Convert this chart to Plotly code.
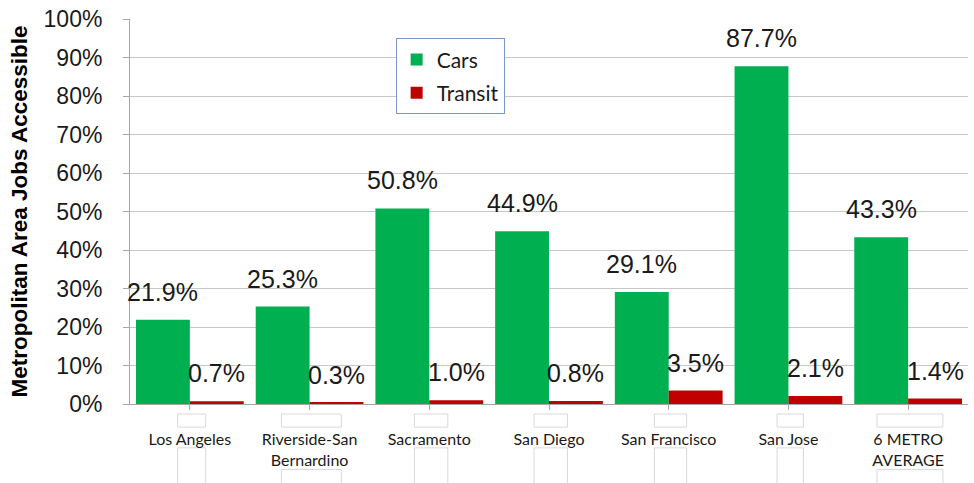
import plotly.graph_objects as go

# Share of metropolitan-area jobs reachable, by mode
metros = ["Los Angeles", "Riverside-San<br>Bernardino", "Sacramento", "San Diego",
          "San Francisco", "San Jose", "6 METRO<br>AVERAGE"]
cars = [21.9, 25.3, 50.8, 44.9, 29.1, 87.7, 43.3]
transit = [0.7, 0.3, 1.0, 0.8, 3.5, 2.1, 1.4]
y_ticks = list(range(0, 101, 10))

GREEN = "#00B050"
RED = "#C00000"
BAR_GAP = 0.1
half = (1 - BAR_GAP) / 4  # offset of each bar centre within its group
idx = list(range(len(metros)))

fig = go.Figure()
fig.add_trace(go.Bar(name="Cars", x=idx, y=cars, legendgroup="cars",
                     marker=dict(color=GREEN, line=dict(width=0))))
fig.add_trace(go.Bar(name="Transit", x=idx, y=transit, legendgroup="transit",
                     marker=dict(color=RED, line=dict(width=0))))

annotations = []
for i, (c, t) in enumerate(zip(cars, transit)):
    for val, off in ((c, -half), (t, half)):
        annotations.append(dict(x=i + off, y=val, xref="x", yref="y",
                                text=f"{val:.1f}%", showarrow=False,
                                yshift=28, yanchor="middle",
                                font=dict(family="Liberation Sans, Arial", size=25,
                                          color="#1a1a1a")))

# small label frames around the category names
frame_w = [0.234, 0.5, 0.28, 0.28, 0.27, 0.22, 0.55]
two_line = [False, True, False, False, False, False, True]
shapes = []
for i, (w, tl) in enumerate(zip(frame_w, two_line)):
    cx = i + 0.015
    shapes.append(dict(type="rect", xref="x", yref="paper",
                       x0=cx - w / 2, x1=cx + w / 2,
                       y0=-0.060, y1=-0.026,
                       line=dict(color="#d9d9d9", width=1), fillcolor="white",
                       layer="below"))
    y_top = -0.17 if tl else -0.114
    shapes.append(dict(type="rect", xref="x", yref="paper",
                       x0=cx - w / 2, x1=cx + w / 2,
                       y0=-0.22, y1=y_top,
                       line=dict(color="#d9d9d9", width=1), fillcolor="white",
                       layer="below"))

fig.update_layout(
    width=974, height=483,
    margin=dict(l=130, r=6, t=19, b=79),
    paper_bgcolor="white", plot_bgcolor="white",
    barmode="group", bargap=BAR_GAP, bargroupgap=0,
    showlegend=True,
    legend=dict(x=0.317, y=0.95, xanchor="left", yanchor="top",
                bgcolor="white", bordercolor="#7a96c8", borderwidth=1,
                font=dict(family="Lato, Open Sans", size=21, color="#1a1a1a"),
                itemwidth=30, tracegroupgap=3),
    annotations=annotations,
    shapes=shapes,
    xaxis=dict(
        tickmode="array", tickvals=idx, ticktext=metros,
        range=[-0.5, len(metros) - 0.5],
        showline=True, linecolor="#a6a6a6", linewidth=1,
        ticks="outside", tickson="boundaries", ticklen=5, tickcolor="#a6a6a6",
        showgrid=False, zeroline=False,
        tickfont=dict(family="Lato, Open Sans", size=16, color="#1a1a1a"),
        ticklabelstandoff=16,
    ),
    yaxis=dict(
        range=[0, 100], tickvals=y_ticks, ticktext=[f"{v}%" for v in y_ticks],
        showline=True, linecolor="#a6a6a6", linewidth=1,
        ticks="outside", ticklen=6, tickcolor="#a6a6a6",
        showgrid=True, gridcolor="#c8c8c8", gridwidth=1, zeroline=False,
        tickfont=dict(family="Liberation Sans, Arial", size=23, color="#1a1a1a"),
        ticklabelstandoff=16,
        title=dict(text="<b>Metropolitan Area Jobs Accessible</b>", standoff=9,
                   font=dict(family="Liberation Sans, Arial", size=22.5, color="#000")),
    ),
)

fig.write_html("out.html")
